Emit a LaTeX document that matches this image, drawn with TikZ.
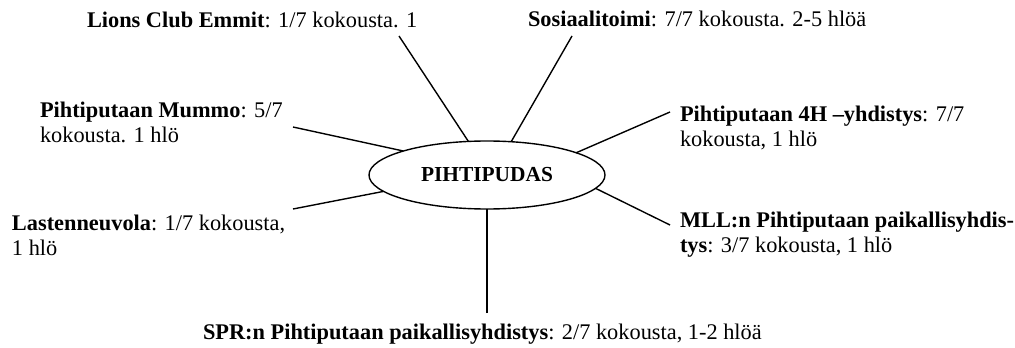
\documentclass[tikz,border=0pt]{standalone}
\usepackage{fontspec}
\setmainfont{Liberation Serif}
\usetikzlibrary{shapes.geometric}
\begin{document}
\begin{tikzpicture}[x=0.575pt,y=-0.575pt,
  lbl/.style={anchor=base west,inner sep=0pt,outer sep=0pt,align=left,font=\fontsize{12.85}{14.2}\selectfont},
  hub/.style={draw,ellipse,line width=0.8pt,minimum width=236*0.575pt,minimum height=68*0.575pt,inner sep=0pt,outer sep=0pt,font=\fontsize{12.3}{14}\selectfont\bfseries},
  spoke/.style={line width=0.8pt}]
\useasboundingbox (0,0) rectangle (1015,348);
\node[hub] (pih) at (487,175) {PIHTIPUDAS};
\node[lbl] (lions) at (87,28) {\textbf{Lions Club Emmit}: 1/7 kokousta. 1};
\node[lbl] (sos) at (528,27) {\textbf{Sosiaalitoimi}: 7/7 kokousta. 2-5 hlöä};
\node[lbl] (mummo) at (40,142) {\textbf{Pihtiputaan Mummo}: 5/7\\kokousta. 1 hlö};
\node[lbl] (fourh) at (680,146) {\textbf{Pihtiputaan 4H –yhdistys}: 7/7\\kokousta, 1 hlö};
\node[lbl] (lasten) at (12,255) {\textbf{Lastenneuvola}: 1/7 kokousta,\\1 hlö};
\node[lbl] (mll) at (680,252) {\textbf{MLL:n Pihtiputaan paikallisyhdis-}\\\textbf{tys}: 3/7 kokousta, 1 hlö};
\node[lbl] (spr) at (203,339) {\textbf{SPR:n Pihtiputaan paikallisyhdistys}: 2/7 kokousta, 1-2 hlöä};
\coordinate (clions) at (399,36);
\coordinate (csos) at (572,36);
\coordinate (cmummo) at (293,127);
\coordinate (cfourh) at (670,112);
\coordinate (clasten) at (293,209);
\coordinate (cmll) at (670,225);
\coordinate (cspr) at (487,313);
\draw[spoke] (clions) -- (pih.119.2);
\draw[spoke] (csos) -- (pih.54.8);
\draw[spoke] (cmummo) -- (pih.164.6);
\draw[spoke] (cfourh) -- (pih.14.8);
\draw[spoke] (clasten) -- (pih.189.2);
\draw[spoke] (cmll) -- (pih.-7.3);
\draw[spoke] (cspr) -- (pih.south);
\end{tikzpicture}
\end{document}
